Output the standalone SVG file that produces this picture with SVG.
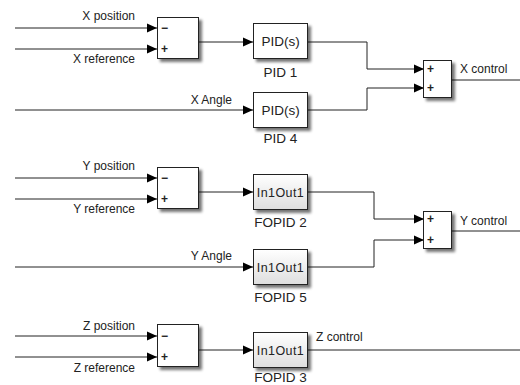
<svg xmlns="http://www.w3.org/2000/svg" width="520" height="385" viewBox="0 0 520 385">
<defs>
<filter id="sh" x="-20%" y="-20%" width="150%" height="150%">
<feGaussianBlur in="SourceAlpha" stdDeviation="1.5"/>
<feOffset dx="2.5" dy="2.5" result="b"/>
<feComponentTransfer><feFuncA type="linear" slope="0.55"/></feComponentTransfer>
<feMerge><feMergeNode/><feMergeNode in="SourceGraphic"/></feMerge>
</filter>
<linearGradient id="gr" x1="0" y1="0" x2="0" y2="1">
<stop offset="0" stop-color="#ffffff"/>
<stop offset="1" stop-color="#dedede"/>
</linearGradient>
<marker id="ar" viewBox="0 0 10 10" refX="10" refY="5" markerWidth="10" markerHeight="10" markerUnits="userSpaceOnUse" orient="auto">
<path d="M0,0.5 L10,5 L0,9.5 Z" fill="#000"/>
</marker>
</defs>
<style>
text{font-family:"Liberation Sans",Arial,sans-serif;fill:#222}
.lbl{font-size:12px}
.r{text-anchor:end}
.c{text-anchor:middle}
.blk{fill:#fff;stroke:#222;stroke-width:1;filter:url(#sh)}
.sub{fill:url(#gr);stroke:#222;stroke-width:1;filter:url(#sh)}
.bt{font-size:13.5px}
.io{font-size:12.5px;letter-spacing:0.4px}
.sg{font-size:12px;font-weight:bold}
.w{fill:none;stroke:#222;stroke-width:1}
.wa{fill:none;stroke:#222;stroke-width:1;marker-end:url(#ar)}
</style>
<g id="connectors">
<path class="wa" d="M15,28 H157"/>
<path class="wa" d="M15,49 H157"/>
<path class="wa" d="M199,42 H253"/>
<path class="wa" d="M15,110 H253"/>
<path class="wa" d="M308,42 H367 V69 H424"/>
<path class="wa" d="M308,110 H367 V88 H424"/>
<path class="w" d="M452,80 H520"/>
<path class="wa" d="M15,178 H157"/>
<path class="wa" d="M15,199 H157"/>
<path class="wa" d="M199,192 H253"/>
<path class="wa" d="M15,267 H253"/>
<path class="wa" d="M308,192 H374 V219 H424"/>
<path class="wa" d="M308,267 H374 V240 H424"/>
<path class="w" d="M452,231 H520"/>
<path class="wa" d="M15,336 H157"/>
<path class="wa" d="M15,357 H157"/>
<path class="wa" d="M199,350 H253"/>
<path class="w" d="M308,350 H520"/>
</g>
<g id="labels">
<text class="lbl r" x="135" y="20">X position</text>
<text class="lbl r" x="135" y="63">X reference</text>
<text class="lbl r" x="232" y="104">X Angle</text>
<text class="lbl" x="460" y="73">X control</text>
<text class="lbl r" x="135" y="170">Y position</text>
<text class="lbl r" x="135" y="213">Y reference</text>
<text class="lbl r" x="232" y="260">Y Angle</text>
<text class="lbl" x="460" y="225">Y control</text>
<text class="lbl r" x="135" y="330">Z position</text>
<text class="lbl r" x="135" y="372">Z reference</text>
<text class="lbl" x="316" y="341">Z control</text>
</g>
<g id="sum_x">
<rect class="blk" x="157.5" y="17.5" width="41" height="41"/>
<text class="sg" x="161" y="32">−</text>
<text class="sg" x="161" y="53">+</text>
</g>
<g id="pid1">
<rect class="blk" x="253.5" y="23.5" width="54" height="35"/>
<text class="bt c" x="280.5" y="46">PID(s)</text>
<text class="bt c" x="280.5" y="77">PID 1</text>
</g>
<g id="pid4">
<rect class="blk" x="253.5" y="92.5" width="54" height="35"/>
<text class="bt c" x="280.5" y="115">PID(s)</text>
<text class="bt c" x="280.5" y="143">PID 4</text>
</g>
<g id="sum_xc">
<rect class="blk" x="423.5" y="60.5" width="28" height="37"/>
<text class="sg" x="427" y="73">+</text>
<text class="sg" x="427" y="92">+</text>
</g>
<g id="sum_y">
<rect class="blk" x="157.5" y="167.5" width="41" height="41"/>
<text class="sg" x="161" y="182">−</text>
<text class="sg" x="161" y="203">+</text>
</g>
<g id="fopid2">
<rect class="sub" x="253.5" y="174.5" width="54" height="35"/>
<text class="io c" x="280.5" y="196.5">In1Out1</text>
<text class="bt c" x="280.5" y="227">FOPID 2</text>
</g>
<g id="fopid5">
<rect class="sub" x="253.5" y="249.5" width="54" height="35"/>
<text class="io c" x="280.5" y="271.5">In1Out1</text>
<text class="bt c" x="280.5" y="302">FOPID 5</text>
</g>
<g id="sum_yc">
<rect class="blk" x="423.5" y="211.5" width="28" height="37"/>
<text class="sg" x="427" y="223">+</text>
<text class="sg" x="427" y="244">+</text>
</g>
<g id="sum_z">
<rect class="blk" x="157.5" y="324.5" width="41" height="42"/>
<text class="sg" x="161" y="340">−</text>
<text class="sg" x="161" y="361">+</text>
</g>
<g id="fopid3">
<rect class="sub" x="253.5" y="332.5" width="54" height="35"/>
<text class="io c" x="280.5" y="354.5">In1Out1</text>
<text class="bt c" x="280.5" y="381.5">FOPID 3</text>
</g>
</svg>
